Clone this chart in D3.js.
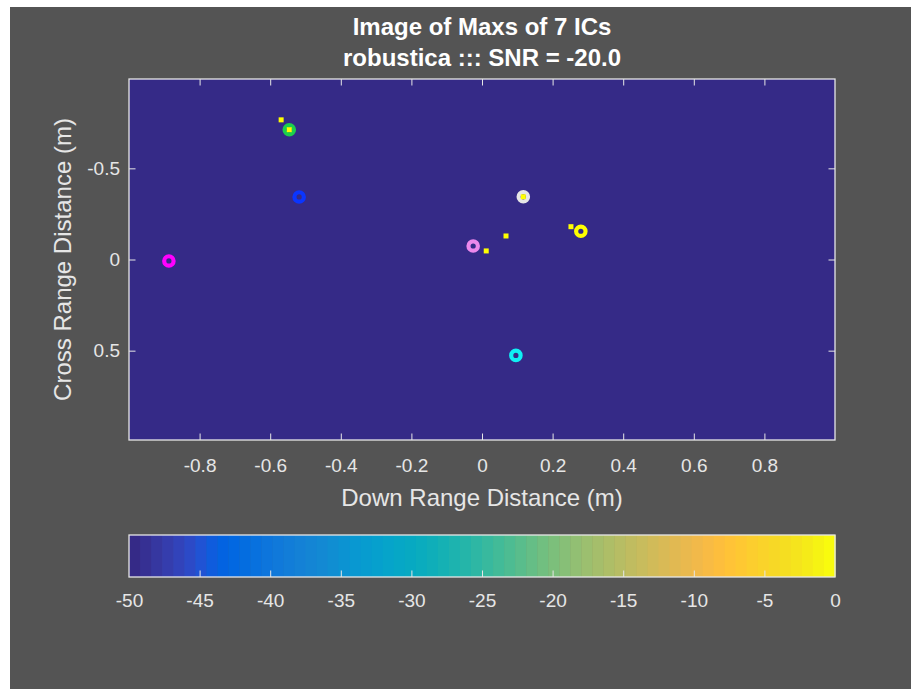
<!DOCTYPE html>
<html>
<head>
<meta charset="utf-8">
<script src="https://cdn.jsdelivr.net/npm/d3@7"></script>
<style>
  html, body { margin: 0; padding: 0; background: #ffffff; }
  svg { display: block; }
  text { font-family: "Liberation Sans", Arial, Helvetica, sans-serif; }
</style>
</head>
<body>
<svg id="chart" width="911" height="689"></svg>
<script>
// ---- data ----
const titleLines = ["Image of Maxs of 7 ICs", "robustica ::: SNR = -20.0"];
const xLabel = "Down Range Distance (m)";
const yLabel = "Cross Range Distance (m)";

const xTicks = [-0.8, -0.6, -0.4, -0.2, 0, 0.2, 0.4, 0.6, 0.8];
const yTicks = [-0.5, 0, 0.5];
const cbarTicks = [-50, -45, -40, -35, -30, -25, -20, -15, -10, -5, 0];

// IC maxima (ring markers)
const icX = [-0.887, -0.546, -0.518, 0.117, -0.025, 0.280, 0.096];
const icY = [0.008, -0.712, -0.343, -0.344, -0.074, -0.155, 0.526];
const icColors = ["#ff00ff", "#1ccf4c", "#0a35ff", "#e6e6e6", "#ec88ec", "#ffff00", "#10f0f4"];

// target positions (square markers)
const tgtX = [-0.569, -0.546, 0.117, 0.012, 0.068, 0.252];
const tgtY = [-0.766, -0.712, -0.344, -0.047, -0.129, -0.180];

// image level (dB) across the plotted map: below the colour limit everywhere
const imageLevel = -50;
const cLim = [-50, 0];

// parula colour map, 64 entries
const parula = [
  [0.2081,0.1663,0.5292],[0.2116,0.1898,0.5777],[0.2123,0.2138,0.6270],[0.2081,0.2386,0.6771],
  [0.1959,0.2645,0.7279],[0.1707,0.2919,0.7792],[0.1253,0.3242,0.8303],[0.0591,0.3598,0.8683],
  [0.0117,0.3875,0.8820],[0.0060,0.4086,0.8828],[0.0165,0.4266,0.8786],[0.0329,0.4430,0.8720],
  [0.0498,0.4586,0.8641],[0.0629,0.4737,0.8554],[0.0723,0.4887,0.8467],[0.0779,0.5040,0.8384],
  [0.0793,0.5200,0.8312],[0.0749,0.5375,0.8263],[0.0641,0.5570,0.8240],[0.0488,0.5772,0.8228],
  [0.0343,0.5966,0.8199],[0.0265,0.6137,0.8135],[0.0239,0.6287,0.8038],[0.0231,0.6418,0.7913],
  [0.0228,0.6535,0.7768],[0.0267,0.6642,0.7607],[0.0384,0.6743,0.7436],[0.0590,0.6838,0.7254],
  [0.0843,0.6928,0.7062],[0.1133,0.7015,0.6859],[0.1453,0.7098,0.6646],[0.1801,0.7177,0.6424],
  [0.2178,0.7250,0.6193],[0.2586,0.7317,0.5954],[0.3022,0.7376,0.5712],[0.3482,0.7424,0.5473],
  [0.3953,0.7459,0.5244],[0.4420,0.7481,0.5033],[0.4871,0.7491,0.4840],[0.5300,0.7491,0.4661],
  [0.5709,0.7485,0.4494],[0.6099,0.7473,0.4337],[0.6473,0.7456,0.4188],[0.6834,0.7435,0.4044],
  [0.7184,0.7411,0.3905],[0.7525,0.7384,0.3768],[0.7858,0.7356,0.3633],[0.8185,0.7327,0.3498],
  [0.8507,0.7299,0.3360],[0.8824,0.7274,0.3217],[0.9139,0.7258,0.3063],[0.9450,0.7261,0.2886],
  [0.9739,0.7314,0.2666],[0.9938,0.7455,0.2403],[0.9990,0.7653,0.2164],[0.9955,0.7861,0.1967],
  [0.9880,0.8066,0.1794],[0.9789,0.8271,0.1633],[0.9697,0.8481,0.1475],[0.9626,0.8705,0.1309],
  [0.9589,0.8949,0.1132],[0.9598,0.9218,0.0948],[0.9661,0.9514,0.0755],[0.9763,0.9831,0.0538]
];

// ---- layout ----
const W = 911, H = 689;
const figBg = "#545454";
const axisCol = "#e6e6e6";
const plot = { left: 129, right: 835, top: 79, bottom: 440 };
const cbar = { left: 129, right: 835, top: 535, bottom: 577 };
const tickFont = 19, labelFont = 24, titleFont = 24;

const svg = d3.select("#chart");

// figure background
svg.append("rect").attr("x", 10).attr("y", 7).attr("width", W - 10).attr("height", H - 7)
  .attr("fill", figBg);

const toRgb = c => d3.rgb(Math.round(c[0] * 255), Math.round(c[1] * 255), Math.round(c[2] * 255)).toString();
const cmap = parula.map(toRgb);
const colorScale = d3.scaleQuantize().domain(cLim).range(cmap);

const x = d3.scaleLinear().domain([-1, 1]).range([plot.left, plot.right]);
const y = d3.scaleLinear().domain([-0.99, 0.99]).range([plot.top, plot.bottom]);

// tick labels with a plain hyphen for negatives
const fmtDec = d => d === 0 ? "0" : d3.format(".1f")(d).replace("\u2212", "-");
const fmtInt = d => String(d);

// image map
svg.append("rect")
  .attr("x", plot.left).attr("y", plot.top)
  .attr("width", plot.right - plot.left).attr("height", plot.bottom - plot.top)
  .attr("fill", colorScale(imageLevel));

// markers
const g = svg.append("g");
g.selectAll("circle.ic").data(icX.map((v, i) => ({ x: v, y: icY[i], c: icColors[i] })))
  .join("circle").attr("class", "ic")
  .attr("cx", d => x(d.x)).attr("cy", d => y(d.y)).attr("r", 4.7)
  .attr("fill", "none").attr("stroke", d => d.c).attr("stroke-width", 4.2);

const sq = 5;
g.selectAll("rect.tgt").data(tgtX.map((v, i) => ({ x: v, y: tgtY[i] })))
  .join("rect").attr("class", "tgt")
  .attr("x", d => x(d.x) - sq / 2).attr("y", d => y(d.y) - sq / 2)
  .attr("width", sq).attr("height", sq).attr("fill", "#ffff00");

// axes with inward ticks
const tickLen = 6.5;
const styleAxis = sel => {
  sel.select(".domain").remove();
  sel.selectAll(".tick line").attr("stroke", axisCol);
  sel.selectAll(".tick text").attr("fill", axisCol).attr("font-size", tickFont);
};
svg.append("g").attr("transform", `translate(0,${plot.bottom})`)
  .call(d3.axisBottom(x).tickValues(xTicks).tickSizeInner(-tickLen).tickSizeOuter(0).tickPadding(19)
    .tickFormat(fmtDec))
  .call(styleAxis);
svg.append("g").attr("transform", `translate(0,${plot.top})`)
  .call(d3.axisTop(x).tickValues(xTicks).tickSizeInner(-tickLen).tickSizeOuter(0).tickFormat(""))
  .call(styleAxis);
svg.append("g").attr("transform", `translate(${plot.left},0)`)
  .call(d3.axisLeft(y).tickValues(yTicks).tickSizeInner(-tickLen).tickSizeOuter(0).tickPadding(9)
    .tickFormat(fmtDec))
  .call(styleAxis);
svg.append("g").attr("transform", `translate(${plot.right},0)`)
  .call(d3.axisRight(y).tickValues(yTicks).tickSizeInner(-tickLen).tickSizeOuter(0).tickFormat(""))
  .call(styleAxis);

// plot box
svg.append("rect")
  .attr("x", plot.left).attr("y", plot.top)
  .attr("width", plot.right - plot.left).attr("height", plot.bottom - plot.top)
  .attr("fill", "none").attr("stroke", axisCol).attr("stroke-width", 1.3);

// colour bar
const cx = d3.scaleLinear().domain(cLim).range([cbar.left, cbar.right]);
const bandW = (cLim[1] - cLim[0]) / cmap.length;
svg.append("g").selectAll("rect").data(cmap).join("rect")
  .attr("x", (d, i) => cx(cLim[0] + i * bandW))
  .attr("y", cbar.top)
  .attr("width", (d, i) => cx(cLim[0] + (i + 1) * bandW) - cx(cLim[0] + i * bandW) + 0.5)
  .attr("height", cbar.bottom - cbar.top)
  .attr("fill", d => d);
svg.append("g").attr("transform", `translate(0,${cbar.bottom})`)
  .call(d3.axisBottom(cx).tickValues(cbarTicks).tickSizeInner(-tickLen).tickSizeOuter(0).tickPadding(17)
    .tickFormat(fmtInt))
  .call(styleAxis)
  .call(s => s.selectAll(".tick line").filter(d => d === cLim[0] || d === cLim[1]).remove());
svg.append("rect")
  .attr("x", cbar.left).attr("y", cbar.top)
  .attr("width", cbar.right - cbar.left).attr("height", cbar.bottom - cbar.top)
  .attr("fill", "none").attr("stroke", axisCol).attr("stroke-width", 1.3);

// titles and labels
const midX = (plot.left + plot.right) / 2;
svg.append("text").attr("x", midX).attr("y", 35).attr("text-anchor", "middle")
  .attr("fill", "#ffffff").attr("font-size", titleFont).attr("font-weight", "bold").text(titleLines[0]);
svg.append("text").attr("x", midX).attr("y", 66).attr("text-anchor", "middle")
  .attr("fill", "#ffffff").attr("font-size", titleFont).attr("font-weight", "bold").text(titleLines[1]);

svg.append("text").attr("x", midX).attr("y", 506).attr("text-anchor", "middle")
  .attr("fill", axisCol).attr("font-size", labelFont).text(xLabel);
svg.append("text")
  .attr("transform", `translate(71,${(plot.top + plot.bottom) / 2}) rotate(-90)`)
  .attr("text-anchor", "middle").attr("fill", axisCol).attr("font-size", labelFont).text(yLabel);
</script>
</body>
</html>
